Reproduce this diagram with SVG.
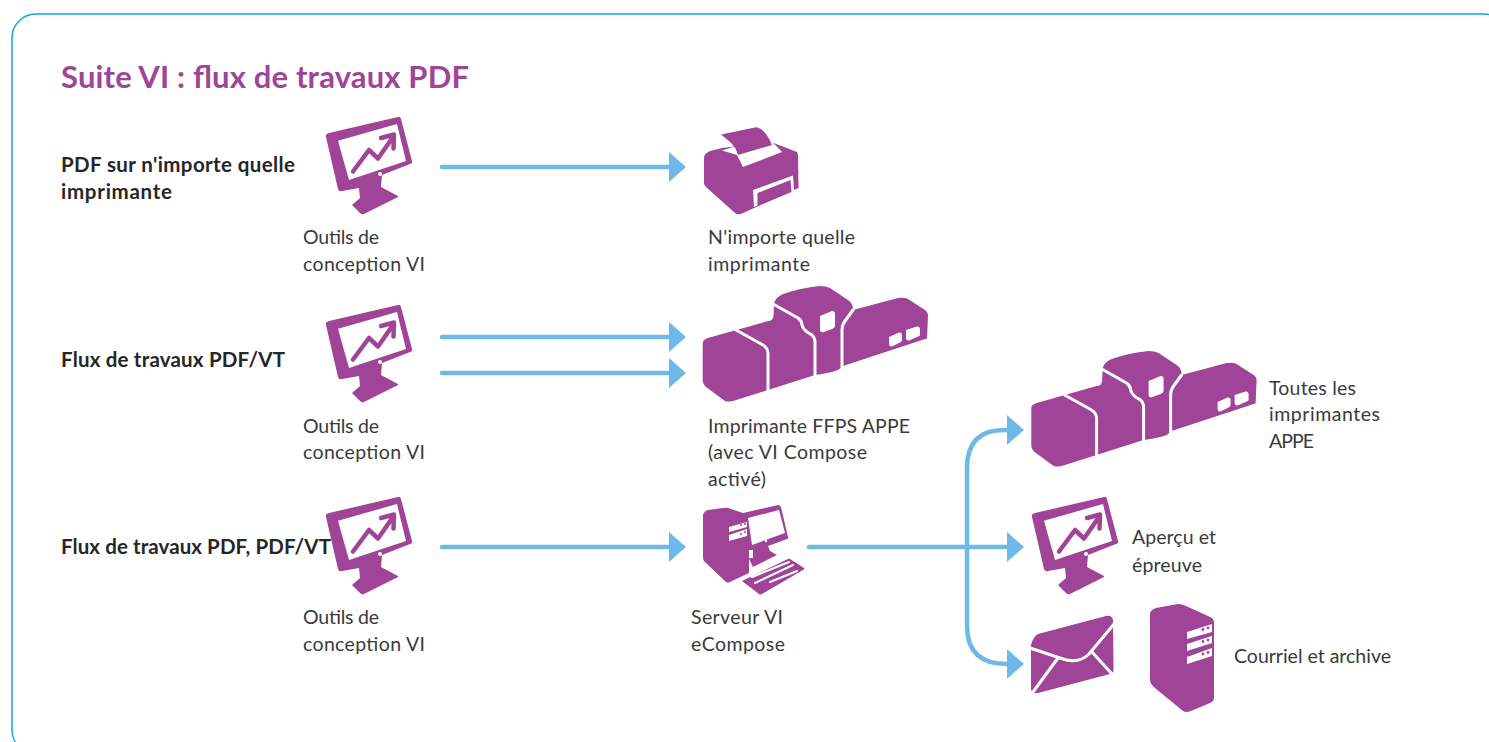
<svg xmlns="http://www.w3.org/2000/svg" xmlns:xlink="http://www.w3.org/1999/xlink" width="1489" height="742" viewBox="0 0 1489 742">
<style>
.t{font-family:"Lato","Open Sans","Liberation Sans",sans-serif;font-size:19.5px;fill:#3a3a3c}
.b{font-family:"Lato","Open Sans","Liberation Sans",sans-serif;font-size:20.5px;font-weight:700;fill:#262626}
.h{font-family:"Lato","Open Sans","Liberation Sans",sans-serif;font-size:31px;font-weight:700;fill:#a04497}
.c{fill:none;stroke:#6fb9e8;stroke-width:4.5;stroke-linecap:round;stroke-linejoin:round}
.a{fill:#6fb9e8}
.p{fill:#a04497}
.w{fill:#fff}
.l{fill:none;stroke:#fff;stroke-width:3;stroke-linecap:round;stroke-linejoin:round}
</style>
<defs>
<polygon id="head" class="a" points="-17,-15 0,0 -17,15"/>
<g id="mon">
<path class="p" d="M326,137Q325,134 329,133L398,117Q400,116 401,119L412,161Q413,163 410,164L382,175L381,187L398,196Q398,198 396,198L364,214Q362,215 360,213L352,205L360,198L359,188L342,191Q339,192 338,189Z"/>
<polygon class="w" points="338,140.700 397,124 406,161 349,180"/>
<circle class="w" cx="380" cy="174" r="2"/>
<path fill="none" stroke="#a04497" stroke-width="4.500" stroke-linecap="round" stroke-linejoin="round" d="M353,171.500L369,150L378,158.500L393,137M381,138L394,134.500L393.500,148.500"/>
</g>
<g id="press">
<path class="p" d="M702.700,343Q702.700,340 708,338L768,321L768,321Q773,321 773.500,316L774,303Q776,297 783,294Q800,288 820,286Q826,286 830,288L848,300Q853,303 853,310L898,298Q904,297 908,299L925,310Q928,312 928,316L927,338Q927,339 925,339L843,366L838,370Q830,373 815,375L768,390L733,401Q727,402 725,401L706,387Q702.700,384 702.700,380Z"/>
<path class="l" d="M736,330L763,345Q768,348 768,354V392M774,304.500L798,318Q802,321 802,325Q803,329 807,332L812,335Q815,338 815,342V376M853,310L845,321Q842,325 842,330V367"/>
<path class="w" d="M820,316L832,311Q835,311 835,314L835,326Q835,328 832,329L824,332Q820,333 820,330Z"/>
<path class="w" d="M889,337L899,332.500Q902,332 902,335V340Q902,342 899,343L892,346.500Q889,347 889,344Z"/>
<path class="w" d="M906,330L917,326.500Q920,326 920,329V335Q920,336 917,337L909,340.500Q906,341 906,338Z"/>
</g>
</defs>
<rect id="frame" x="12" y="14" width="1496" height="740" rx="24" fill="#fff" stroke="#0fa5dc" stroke-width="1.500"/>
<text class="h" x="61" y="88" textLength="408" lengthAdjust="spacing">Suite VI : flux de travaux PDF</text>
<g id="connectors">
<path class="c" d="M442,167H670M442,337H670M442,373H670M442,547H670M809,547H1008M1007,430H1004Q967,430 967,468V626Q967,664 1007,664"/>
<use xlink:href="#head" href="#head" x="686" y="167"/>
<use xlink:href="#head" href="#head" x="686" y="337"/>
<use xlink:href="#head" href="#head" x="686" y="373"/>
<use xlink:href="#head" href="#head" x="686" y="547"/>
<use xlink:href="#head" href="#head" x="1024" y="547"/>
<use xlink:href="#head" href="#head" x="1024" y="430"/>
<use xlink:href="#head" href="#head" x="1024" y="664"/>
</g>
<g id="design1"><use xlink:href="#mon" href="#mon"/><text class="t" x="303" y="244" textLength="76" lengthAdjust="spacing">Outils de</text><text class="t" x="303" y="271" textLength="122" lengthAdjust="spacing">conception VI</text></g>
<g id="design2"><use xlink:href="#mon" href="#mon" y="188"/><text class="t" x="303" y="433" textLength="76" lengthAdjust="spacing">Outils de</text><text class="t" x="303" y="459" textLength="122" lengthAdjust="spacing">conception VI</text></g>
<g id="design3"><use xlink:href="#mon" href="#mon" y="380"/><text class="t" x="303" y="624" textLength="76" lengthAdjust="spacing">Outils de</text><text class="t" x="303" y="651" textLength="122" lengthAdjust="spacing">conception VI</text></g>
<g id="row1-label"><text class="b" x="61" y="172" textLength="234" lengthAdjust="spacing">PDF sur n'importe quelle</text><text class="b" x="61" y="199" textLength="111" lengthAdjust="spacing">imprimante</text></g>
<g id="row2-label"><text class="b" x="61" y="367" textLength="224" lengthAdjust="spacing">Flux de travaux PDF/VT</text></g>
<g id="row3-label"><text class="b" x="61" y="554" textLength="270" lengthAdjust="spacing">Flux de travaux PDF, PDF/VT</text></g>
<g id="any-printer">
<path class="p" d="M704,157Q705,153 710,151L722,148L771,142L797,152Q798,153 798,156L798.500,188L794,190L741,214Q737,215 735,213L706,187Q704,185 704,183Z"/>
<polygon class="w" points="722,150.500 733,147 772,141.500 782,152 743,167 737,155"/>
<path class="p" d="M721,134.500L755,127.500Q757,127 759,128Q767,132 772,145L738,155Q736,147 729,141Z"/>
<path class="w" d="M753,190L793,175.500L794,190L792,191L754,207Z"/>
<polygon class="p" points="757.500,193 790.500,180 791.500,192 757.500,206"/>
<text class="t" x="708" y="244" textLength="147" lengthAdjust="spacing">N'importe quelle</text><text class="t" x="708" y="271" textLength="102" lengthAdjust="spacing">imprimante</text>
</g>
<g id="ffps-printer"><use xlink:href="#press" href="#press"/><text class="t" x="708" y="433" textLength="202" lengthAdjust="spacing">Imprimante FFPS APPE</text><text class="t" x="708" y="459" textLength="159" lengthAdjust="spacing">(avec VI Compose</text><text class="t" x="708" y="486" textLength="58" lengthAdjust="spacing">activé)</text></g>
<g id="server">
<path class="p" d="M703,515Q704,511 708,510L723,508Q727,507 731,509L743,513L778,505Q780,505 781,507L788,537Q789,538 787,539L768,546L770,551L777,555L753,567L749,559L749,573L730,582Q728,583 726,582L706,563Q703,561 703,558Z"/>
<polygon class="w" points="748,518 779,510 785,533 752,545"/>
<polygon class="w" points="729,527 747,522 747,527 729,532"/>
<polygon class="w" points="729,535 747,529 747,536 729,541"/>
<rect class="w" x="749" y="550" width="4" height="8"/>
<circle class="w" cx="766" cy="541" r="1.200"/>
<circle class="p" cx="741" cy="525" r="1"/><circle class="p" cx="745" cy="524" r="1"/><circle class="p" cx="741" cy="534" r="1"/><circle class="p" cx="745" cy="532" r="1"/>
<path class="p" d="M742,581L788,559Q789,558 790,559L804,568Q805,569 803,570L762,594Q760,595 759,594Z"/>
<path fill="none" stroke="#fff" stroke-width="2" stroke-linecap="round" d="M752,577L789,562M755,583L793,565M770,582L797,571"/>
<text class="t" x="691" y="624" textLength="92" lengthAdjust="spacing">Serveur VI</text><text class="t" x="691" y="651" textLength="94" lengthAdjust="spacing">eCompose</text>
</g>
<g id="appe-printers"><use xlink:href="#press" href="#press" x="328.600" y="65"/><text class="t" x="1269" y="395" textLength="87" lengthAdjust="spacing">Toutes les</text><text class="t" x="1269" y="421" textLength="111" lengthAdjust="spacing">imprimantes</text><text class="t" x="1269" y="448" textLength="45" lengthAdjust="spacing">APPE</text></g>
<g id="preview"><use xlink:href="#mon" href="#mon" x="706" y="380"/><text class="t" x="1132" y="544" textLength="84" lengthAdjust="spacing">Aperçu et</text><text class="t" x="1132" y="572" textLength="70" lengthAdjust="spacing">épreuve</text></g>
<g id="mail">
<path class="p" d="M1031,645Q1033,637 1038,634L1106,616Q1112,615 1113,620L1113.500,670Q1113.500,673 1110,674L1038,693Q1032,694 1031,689Z"/>
<path class="l" d="M1030,648L1060,658Q1078,665 1089,654L1114,624M1058,658L1033,692M1092,652L1112,674"/>
</g>
<g id="archive">
<path class="p" d="M1150,613Q1151,610 1156,608L1178,604Q1182,604 1186,606L1208,616Q1214,618 1214,622V698Q1214,701 1210,703L1191,711Q1186,713 1183,711L1155,688Q1150,684 1150,680Z"/>
<polygon class="w" points="1187,632 1212,624 1212,632 1187,639"/>
<polygon class="w" points="1187,644 1212,636 1212,643 1187,651"/>
<polygon class="w" points="1187,657 1212,648 1212,656 1187,664"/>
<g class="p"><circle cx="1203" cy="629.500" r="1.400"/><circle cx="1208" cy="628" r="1.400"/><circle cx="1203" cy="641.500" r="1.400"/><circle cx="1208" cy="640" r="1.400"/><circle cx="1203" cy="654" r="1.400"/><circle cx="1208" cy="652.500" r="1.400"/></g>
<text class="t" x="1234" y="663" textLength="157" lengthAdjust="spacing">Courriel et archive</text>
</g>
</svg>
